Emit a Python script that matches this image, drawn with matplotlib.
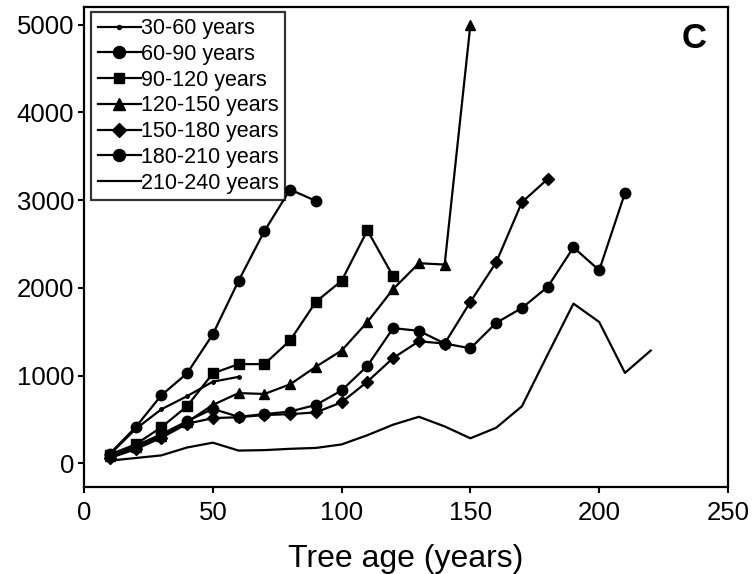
"""Tree age chart, panel C."""

import matplotlib
matplotlib.use("Agg")
import matplotlib.pyplot as plt

plt.rcParams["font.family"] = ["Liberation Sans", "DejaVu Sans"]

# values
age_30_60 = [10, 20, 30, 40, 50, 60]
val_30_60 = [100, 390, 615, 765, 930, 985]

age_60_90 = [10, 20, 30, 40, 50, 60, 70, 80, 90]
val_60_90 = [110, 410, 775, 1025, 1470, 2080, 2645, 3120, 2990]

age_90_120 = [10, 20, 30, 40, 50, 60, 70, 80, 90, 100, 110, 120]
val_90_120 = [100, 215, 410, 650, 1025, 1130, 1130, 1400, 1840, 2080, 2655, 2130]

age_120_150 = [10, 20, 30, 40, 50, 60, 70, 80, 90, 100, 110, 120, 130, 140, 150]
val_120_150 = [80, 180, 310, 470, 665, 800, 790, 900, 1100, 1285, 1610, 1985, 2280, 2265, 5000]

age_150_180 = [10, 20, 30, 40, 50, 60, 70, 80, 90, 100, 110, 120, 130, 140, 150, 160, 170, 180]
val_150_180 = [60, 160, 290, 450, 515, 525, 550, 560, 580, 695, 930, 1200, 1390, 1365, 1840, 2290, 2975, 3240]

age_180_210 = [10, 20, 30, 40, 50, 60, 70, 80, 90, 100, 110, 120, 130, 140, 150,
               160, 170, 180, 190, 200, 210]
val_180_210 = [90, 200, 330, 480, 620, 530, 560, 590, 665, 830, 1110, 1540, 1510, 1365, 1310,
               1600, 1770, 2010, 2460, 2200, 3080]

age_210_240 = [10, 20, 30, 40, 50, 60, 70, 80, 90, 100, 110, 120, 130, 140, 150,
               160, 170, 180, 190, 200, 210, 220]
val_210_240 = [30, 60, 90, 180, 235, 145, 150, 165, 175, 215, 320, 440, 530, 420, 285,
               405, 650, 1240, 1820, 1610, 1030, 1285]

x_ticks = [0, 50, 100, 150, 200, 250]
y_ticks = [0, 1000, 2000, 3000, 4000, 5000]

series = [
    (age_30_60, val_30_60, "30-60 years", ".", 5),
    (age_60_90, val_60_90, "60-90 years", "o", 7.5),
    (age_90_120, val_90_120, "90-120 years", "s", 6.5),
    (age_120_150, val_120_150, "120-150 years", "^", 7),
    (age_150_180, val_150_180, "150-180 years", "D", 6),
    (age_180_210, val_180_210, "180-210 years", "o", 7.5),
    (age_210_240, val_210_240, "210-240 years", None, 0),
]

fig = plt.figure(figsize=(7.53, 5.74), dpi=100)
ax = fig.add_axes([0.1116, 0.1516, 0.8552, 0.8362])

for ages, vals, label, marker, msize in series:
    ax.plot(ages, vals, color="black", linewidth=1.6, marker=marker,
            markersize=msize, label=label)

ax.set_xlim(0, 250)
ax.set_ylim(-270, 5200)
ax.set_xticks(x_ticks)
ax.set_yticks(y_ticks)
ax.tick_params(direction="out", length=4, width=1.5, labelsize=18.5, pad=3)
ax.tick_params(axis="x", pad=6)
for spine in ax.spines.values():
    spine.set_linewidth(1.6)

ax.set_xlabel("Tree age (years)", fontsize=23, labelpad=14)

ax.text(0.948, 0.935, "C", transform=ax.transAxes, fontsize=25, fontweight="bold",
        ha="center", va="center")

leg = ax.legend(loc="upper left", bbox_to_anchor=(0.011, 0.99), borderaxespad=0,
                fontsize=15.5, frameon=True, fancybox=False, edgecolor="black",
                handlelength=2.0, handletextpad=0.0, labelspacing=0.22,
                borderpad=0.3, markerscale=1.15)
leg.get_frame().set_linewidth(1.6)

fig.savefig("out.png", dpi=100)
